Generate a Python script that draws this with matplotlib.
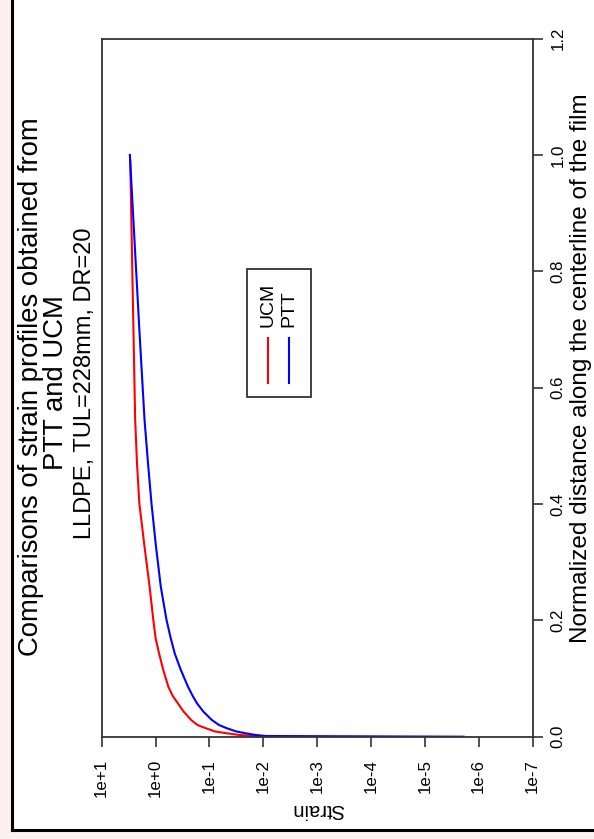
import matplotlib
matplotlib.use("Agg")
import matplotlib.pyplot as plt
from matplotlib.lines import Line2D
from matplotlib.patches import Rectangle

plt.rcParams['font.family'] = ['Liberation Sans', 'DejaVu Sans']

W, H = 594, 839

# strain profiles (distance along centerline, strain)
ptt_dist = [1.0, 0.7, 0.544, 0.47, 0.401, 0.33, 0.258, 0.23, 0.2006, 0.17, 0.143, 0.115, 0.086,
            0.07, 0.0574, 0.043, 0.0287, 0.02, 0.0144, 0.009, 0.0058, 0.003, 0.0012, 0.0]
ptt_strain = [3.0, 2.0, 1.6, 1.38, 1.19, 0.99, 0.80, 0.71, 0.625, 0.525, 0.44, 0.34, 0.25,
              0.204, 0.17, 0.129, 0.09, 0.066, 0.047, 0.0316, 0.021, 0.014, 0.009, 1.9e-6]
ucm_dist = [0.99, 0.8, 0.544, 0.47, 0.401, 0.33, 0.258, 0.2006, 0.17, 0.143, 0.115, 0.086,
            0.07, 0.0574, 0.043, 0.0287, 0.02, 0.0144, 0.009, 0.0058, 0.003, 0.001, 0.0]
ucm_strain = [2.95, 2.7, 2.39, 2.21, 2.0, 1.62, 1.29, 1.10, 1.0, 0.86, 0.72, 0.58,
              0.48, 0.385, 0.30, 0.218, 0.166, 0.115, 0.079, 0.047, 0.028, 0.0126, 0.009]

strain_ticks = [1e1, 1e0, 1e-1, 1e-2, 1e-3, 1e-4, 1e-5, 1e-6, 1e-7]
strain_labels = ["1e+1", "1e+0", "1e-1", "1e-2", "1e-3", "1e-4", "1e-5", "1e-6", "1e-7"]
dist_ticks = [0.0, 0.2, 0.4, 0.6, 0.8, 1.0, 1.2]
dist_labels = ["0.0", "0.2", "0.4", "0.6", "0.8", "1.0", "1.2"]


def fx(x):
    return x / W


def fy(y):
    return 1 - y / H


fig = plt.figure(figsize=(W / 100, H / 100), dpi=100)
fig.patch.set_facecolor('#fdf0f0')

# white page inside the black frame
fig.add_artist(Rectangle((fx(11.7), fy(830)), 1, 1, transform=fig.transFigure,
                         facecolor='white', edgecolor='none', zorder=0))
fig.add_artist(Line2D([fx(11.7), fx(11.7)], [fy(830), 1.01], transform=fig.transFigure,
                      color='black', lw=2.2, zorder=1))
fig.add_artist(Line2D([fx(11.7), 1.01], [fy(830), fy(830)], transform=fig.transFigure,
                      color='black', lw=2.2, zorder=1))

x0, x1, y0, y1 = 101.7, 532.5, 38.5, 736.7
ax = fig.add_axes([fx(x0), fy(y1), fx(x1 - x0), (y1 - y0) / H])
ax.set_facecolor('white')

ax.plot(ucm_strain, ucm_dist, color='#ff0000', lw=1.5)
ax.plot(ptt_strain, ptt_dist, color='#0000ff', lw=1.5)

ax.set_xscale('log')
ax.set_xlim(1e1, 1e-7)
ax.set_ylim(0, 1.2)
ax.minorticks_off()
ax.set_xticks(strain_ticks)
ax.set_xticklabels(strain_labels, rotation=90, va='top', ha='center', fontsize=12.2)
ax.yaxis.tick_right()
ax.set_yticks(dist_ticks)
ax.set_yticklabels(dist_labels, rotation=90, va='center', ha='left', fontsize=12.2)
ax.tick_params(axis='x', direction='out', length=7, width=1.2, pad=9, colors='#333333', labelcolor='black')
ax.tick_params(axis='y', direction='out', length=7, width=1.2, pad=6, colors='#333333', labelcolor='black')
for s in ax.spines.values():
    s.set_color('#333333')
    s.set_linewidth(1.3)

# titles, rotated like the rest of the figure
fig.text(fx(31), fy(386.5), "Comparisons of strain profiles obtained from", rotation=90,
         ha='center', va='center', fontsize=19.8)
fig.text(fx(56), fy(383), "PTT and UCM", rotation=90, ha='center', va='center', fontsize=19.8)
fig.text(fx(85), fy(383), "LLDPE, TUL=228mm, DR=20", rotation=90, ha='center', va='center', fontsize=17)

fig.text(fx(580.5), fy(368), "Normalized distance along the centerline of the film", rotation=90,
         ha='center', va='center', fontsize=17.5)
fig.text(fx(318), fy(810), "Strain", rotation=180, ha='center', va='center', fontsize=14.5)

# legend box
fig.add_artist(Rectangle((fx(247.3), fy(396.7)), fx(310.7 - 247.3), (396.7 - 269) / H,
                         transform=fig.transFigure, facecolor='white', edgecolor='#333333', lw=1.3, zorder=5))
fig.add_artist(Line2D([fx(268.3), fx(268.3)], [fy(383), fy(338)], transform=fig.transFigure,
                      color='#ff0000', lw=1.5, zorder=6))
fig.add_artist(Line2D([fx(289.3), fx(289.3)], [fy(383), fy(338)], transform=fig.transFigure,
                      color='#0000ff', lw=1.5, zorder=6))
fig.text(fx(268.3), fy(327), "UCM", rotation=90, ha='center', va='bottom', fontsize=14, zorder=7)
fig.text(fx(289.3), fy(327), "PTT", rotation=90, ha='center', va='bottom', fontsize=14, zorder=7)

fig.savefig("out.png", dpi=100, facecolor=fig.get_facecolor())
